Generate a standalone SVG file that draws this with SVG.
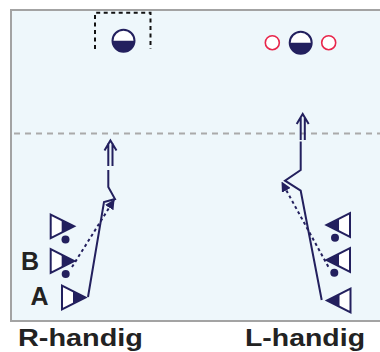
<svg xmlns="http://www.w3.org/2000/svg" width="380" height="352" viewBox="0 0 380 352">
<style>
.nv{stroke:#23205e;stroke-width:2;fill:none}
.dot{stroke:#23205e;stroke-width:2;fill:none;stroke-dasharray:3 3}
.lbl{font-family:"Liberation Sans",Arial,sans-serif;font-weight:bold;fill:#222}
</style>
<defs>
<marker id="ah" viewBox="0 0 10 10" refX="9" refY="5" markerWidth="5" markerHeight="5" orient="auto" markerUnits="strokeWidth">
<path d="M0,0 L10,5 L0,10 z" fill="#23205e"/>
</marker>
<g id="triR">
<polygon points="0,-11.8 0,11.8 23.5,0" fill="#fff" stroke="#23205e" stroke-width="2"/>
<polygon points="11,-6.3 11,6.3 23.5,0" fill="#23205e"/>
</g>
<g id="triL">
<polygon points="0,-11.8 0,11.8 -23.5,0" fill="#fff" stroke="#23205e" stroke-width="2"/>
<polygon points="-11,-6.3 -11,6.3 -23.5,0" fill="#23205e"/>
</g>
<g id="half">
<circle r="11" fill="#fff"/>
<path d="M-11,0 A11,11 0 0 0 11,0 z" fill="#23205e"/>
<circle r="11" fill="none" stroke="#23205e" stroke-width="2"/>
</g>
</defs>
<rect x="11" y="10" width="380" height="311" fill="#eef7fb" stroke="#a3a3a3" stroke-width="2"/>
<line x1="14" y1="133.5" x2="380" y2="133.5" stroke="#aaaaaa" stroke-width="2" stroke-dasharray="6 5"/>
<g id="goal-left">
<path d="M95,49 V12.7 H150.5 V49" fill="none" stroke="#111" stroke-width="2" stroke-dasharray="4 3.5"/>
<use href="#half" x="123.5" y="40.7"/>
</g>
<g id="goal-right">
<circle cx="272.3" cy="42.7" r="7" fill="#fff" stroke="#e8264b" stroke-width="1.6"/>
<use href="#half" x="300.7" y="42.7"/>
<circle cx="328.7" cy="42.7" r="7" fill="#fff" stroke="#e8264b" stroke-width="1.6"/>
</g>
<g id="connectors">
<path class="nv" d="M88,297 L104,202 L115,199 L108.3,187 L108.3,170"/>
<path class="nv" d="M108.3,166 V143 M112.5,166 V143 M104.5,150.5 L110.4,140.5 L116.5,150.5"/>
<path class="dot" d="M72,267 L114,200" marker-end="url(#ah)"/>
<path class="nv" d="M321.7,300 L300.7,190.7 L285,180.7 L300.7,170 L300.7,141.5"/>
<path class="nv" d="M300.7,140 V118 M304.8,140 V118 M296.7,124 L302.7,114 L308.7,124"/>
<path class="dot" d="M328.3,266.7 L282,182.5" marker-end="url(#ah)"/>
</g>
<g id="players-left">
<use href="#triR" x="50.7" y="226.3"/>
<circle cx="65.5" cy="239.5" r="4" fill="#23205e"/>
<use href="#triR" x="50.7" y="261"/>
<circle cx="65.7" cy="274" r="4" fill="#23205e"/>
<use href="#triR" x="62" y="297.5"/>
</g>
<g id="players-right">
<use href="#triL" x="350" y="225"/>
<circle cx="335" cy="237.7" r="4" fill="#23205e"/>
<use href="#triL" x="350" y="260"/>
<circle cx="334.3" cy="272.7" r="4" fill="#23205e"/>
<use href="#triL" x="350.5" y="300.5"/>
</g>
<text class="lbl" x="21" y="270" font-size="25">B</text>
<text class="lbl" x="30.5" y="305" font-size="25">A</text>
<text class="lbl" x="18" y="346" font-size="24.5" textLength="125" lengthAdjust="spacingAndGlyphs">R-handig</text>
<text class="lbl" x="245" y="346" font-size="24.5" textLength="120" lengthAdjust="spacingAndGlyphs">L-handig</text>
</svg>
